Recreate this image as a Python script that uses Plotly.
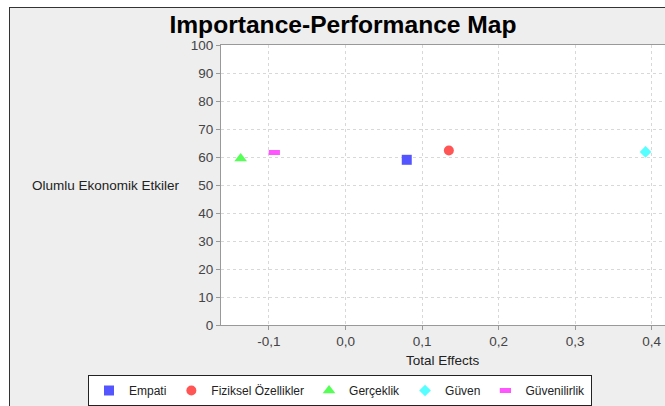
import plotly.graph_objects as go

# ---- data ----
names = ["Empati", "Fiziksel Özellikler", "Gerçeklik", "Güven", "Güvenilirlik"]
total_effects = [0.080, 0.135, -0.137, 0.392, -0.093]
performance = [59.0, 62.3, 59.5, 61.8, 61.6]
x_tickvals = [-0.1, 0.0, 0.1, 0.2, 0.3, 0.4]
x_ticktext = ["-0,1", "0,0", "0,1", "0,2", "0,3", "0,4"]
y_tickvals = [0, 10, 20, 30, 40, 50, 60, 70, 80, 90, 100]

# ---- styles ----
colors = ["#5555FF", "#FF5555", "#55FF55", "#55FFFF", "#FF55FF"]
symbols = ["square", "circle", "triangle-up", "diamond", "line-ew"]
sizes = [10, 10, 11, 9, 8]

FONT = "Liberation Sans, Arial, sans-serif"

fig = go.Figure()
for i, n in enumerate(names):
    if symbols[i] == "line-ew":
        marker = dict(symbol="line-ew", size=sizes[i], color=colors[i],
                      line=dict(color=colors[i], width=5))
    else:
        marker = dict(symbol=symbols[i], size=sizes[i], color=colors[i],
                      line=dict(width=0))
    fig.add_trace(go.Scatter(x=[total_effects[i]], y=[performance[i]], mode="markers",
                             name=n, marker=marker))

W, H = 665, 406
ML, MR, MT, MB = 221, 0, 45, 81
PW = W - ML - MR
PH = H - MT - MB


def px(xp):
    return (xp - ML) / PW


def py(yp):
    return (H - MB - yp) / PH


fig.update_layout(
    width=W, height=H,
    margin=dict(l=ML, r=MR, t=MT, b=MB, pad=0, autoexpand=False),
    paper_bgcolor="#EEEEEE",
    plot_bgcolor="white",
    font=dict(family=FONT, size=13.5, color="#333333"),
    title=dict(text="<b>Importance-Performance Map</b>", x=343 / W, xref="container",
               xanchor="center", y=1 - 24 / H, yanchor="middle",
               font=dict(family=FONT, size=24.6, color="black")),
    xaxis=dict(range=[-0.1627, 0.4174], tickvals=x_tickvals, ticktext=x_ticktext,
               showgrid=True, gridcolor="#D8D8D8", griddash="dot", gridwidth=1,
               zeroline=False, showline=True, linecolor="#999999", linewidth=1,
               mirror=True, ticks="outside", ticklen=4, tickcolor="#999999",
               tickfont=dict(size=13.5, color="#444444")),
    yaxis=dict(range=[0, 100], tickvals=y_tickvals,
               showgrid=True, gridcolor="#D8D8D8", griddash="dot", gridwidth=1,
               zeroline=False, showline=True, linecolor="#999999", linewidth=1,
               ticks="outside", ticklen=4, tickcolor="#999999",
               tickfont=dict(size=13.5, color="#444444")),
    showlegend=True,
    legend=dict(orientation="h", x=px(88), xanchor="left", y=py(390.5), yanchor="middle",
                bgcolor="white", bordercolor="#222222", borderwidth=1,
                font=dict(size=12, color="#222222"), itemwidth=30,
                tracegroupgap=0),
    annotations=[
        dict(text="Olumlu Ekonomik Etkiler", xref="paper", yref="paper",
             x=px(182), y=0.5, xanchor="right", yanchor="middle", showarrow=False,
             font=dict(size=13.5, color="#222222")),
        dict(text="Total Effects", xref="paper", yref="paper",
             x=px(443), y=py(360), xanchor="center", yanchor="middle", showarrow=False,
             font=dict(size=13.5, color="#222222")),
    ],
    shapes=[
        dict(type="rect", xref="paper", yref="paper", x0=px(0), x1=px(9), y0=py(406), y1=py(0),
             fillcolor="white", line=dict(width=0), layer="above"),
        dict(type="rect", xref="paper", yref="paper", x0=px(0), x1=px(665), y0=py(7), y1=py(0),
             fillcolor="white", line=dict(width=0), layer="above"),
        dict(type="line", xref="paper", yref="paper", x0=px(9.5), x1=px(9.5), y0=py(406), y1=py(7),
             line=dict(color="#333333", width=1), layer="above"),
        dict(type="line", xref="paper", yref="paper", x0=px(9), x1=px(665), y0=py(7.5), y1=py(7.5),
             line=dict(color="#333333", width=1), layer="above"),
    ],
)

fig.write_html("out.html", config={"displayModeBar": False},
               post_script="document.body.style.margin='0';document.body.style.overflow='hidden';")
